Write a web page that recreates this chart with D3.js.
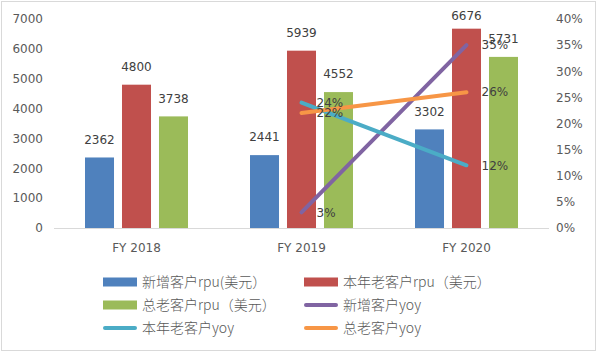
<!DOCTYPE html>
<html lang="zh">
<head>
    <meta charset="UTF-8">
    <title>客户rpu</title>
    <script src="https://d3js.org/d3.v7.min.js"></script>
    <style>
        body { margin: 0; background: #fff; }
        .tick-label { font-family: "DejaVu Sans", sans-serif; font-size: 12px; fill: #595959; }
        .data-label { font-family: "DejaVu Sans", sans-serif; font-size: 12px; fill: #404040; }
        .legend-label { font-family: "Noto Sans CJK SC", sans-serif; font-size: 14px; font-weight: 300; fill: #595959; }
    </style>
</head>
<body>
<svg id="chart" width="597" height="353"></svg>
<script>
    const categories = ["FY 2018", "FY 2019", "FY 2020"];
    const barNames = ["新增客户rpu(美元）", "本年老客户rpu（美元）", "总老客户rpu（美元）"];
    const newRpu = [2362, 2441, 3302];
    const curOldRpu = [4800, 5939, 6676];
    const allOldRpu = [3738, 4552, 5731];
    const lineNames = ["新增客户yoy", "本年老客户yoy", "总老客户yoy"];
    const newYoy = [null, 0.03, 0.35];
    const curOldYoy = [null, 0.24, 0.12];
    const allOldYoy = [null, 0.22, 0.26];
    const leftTicks = [0, 1000, 2000, 3000, 4000, 5000, 6000, 7000];
    const rightTicks = [0, 0.05, 0.1, 0.15, 0.2, 0.25, 0.3, 0.35, 0.4];

    const barColors = ["#4F81BD", "#C0504D", "#9BBB59"];
    const lineColors = ["#8064A2", "#4BACC6", "#F79646"];
    const barSeries = [newRpu, curOldRpu, allOldRpu];
    const lineSeries = [newYoy, curOldYoy, allOldYoy];

    const svg = d3.select("#chart");

    svg.append("rect")
        .attr("x", 1.5).attr("y", 1.5)
        .attr("width", 594).attr("height", 349)
        .attr("fill", "#fff")
        .attr("stroke", "#d9d9d9");

    const x0 = d3.scaleBand().domain(categories).range([54, 549]);
    const x1 = d3.scaleBand().domain(d3.range(3)).range([0, x0.bandwidth()])
        .paddingInner(0.216).paddingOuter(0.838);
    const yL = d3.scaleLinear().domain([0, 7000]).range([228, 19]);
    const yR = d3.scaleLinear().domain([0, 0.4]).range([228, 19]);

    // axes
    const leftAxis = svg.append("g")
        .attr("transform", "translate(43,0)")
        .call(d3.axisLeft(yL).tickValues(leftTicks).tickFormat(d3.format("d")).tickSize(0).tickPadding(0));
    const rightAxis = svg.append("g")
        .attr("transform", "translate(556,0)")
        .call(d3.axisRight(yR).tickValues(rightTicks).tickFormat(d3.format(".0%")).tickSize(0).tickPadding(0));
    const bottomAxis = svg.append("g")
        .attr("transform", "translate(0,228)")
        .call(d3.axisBottom(x0).tickSize(0).tickPadding(15));
    [leftAxis, rightAxis, bottomAxis].forEach(a => {
        a.select(".domain").remove();
        a.selectAll("text").attr("class", "tick-label").attr("fill", null).attr("font-family", null).attr("font-size", null);
    });

    svg.append("line")
        .attr("x1", x0.range()[0]).attr("x2", x0.range()[1])
        .attr("y1", yL(0) + 0.5).attr("y2", yL(0) + 0.5)
        .attr("stroke", "#d9d9d9");

    // bars
    barSeries.forEach((vals, s) => {
        const g = svg.append("g");
        g.selectAll("rect")
            .data(vals)
            .enter().append("rect")
            .attr("x", (d, i) => x0(categories[i]) + x1(s))
            .attr("y", d => yL(d))
            .attr("width", x1.bandwidth())
            .attr("height", d => yL(0) - yL(d))
            .attr("fill", barColors[s]);
        g.selectAll("text")
            .data(vals)
            .enter().append("text")
            .attr("class", "data-label")
            .attr("x", (d, i) => x0(categories[i]) + x1(s) + x1.bandwidth() / 2)
            .attr("y", d => Math.max(yL(d) - 18, 16))
            .attr("dy", "0.35em")
            .attr("text-anchor", "middle")
            .text(d => d);
    });

    // lines
    const cx = i => x0(categories[i]) + x0.bandwidth() / 2;
    const line = d3.line()
        .defined(d => d != null)
        .x((d, i) => cx(i))
        .y(d => yR(d));
    lineSeries.forEach((vals, s) => {
        svg.append("path")
            .attr("d", line(vals))
            .attr("fill", "none")
            .attr("stroke", lineColors[s])
            .attr("stroke-width", 4)
            .attr("stroke-linecap", "round");
    });
    lineSeries.forEach(vals => {
        svg.append("g").selectAll("text")
            .data(vals.map((v, i) => ({ v, i })).filter(d => d.v != null))
            .enter().append("text")
            .attr("class", "data-label")
            .attr("x", d => cx(d.i) + 15)
            .attr("y", d => yR(d.v))
            .attr("dy", "0.35em")
            .text(d => d3.format(".0%")(d.v));
    });

    // legend
    const legendItems = [
        { name: barNames[0], color: barColors[0], type: "bar" },
        { name: barNames[1], color: barColors[1], type: "bar" },
        { name: barNames[2], color: barColors[2], type: "bar" },
        { name: lineNames[0], color: lineColors[0], type: "line" },
        { name: lineNames[1], color: lineColors[1], type: "line" },
        { name: lineNames[2], color: lineColors[2], type: "line" }
    ];
    const legend = svg.append("g");
    legendItems.forEach((d, i) => {
        const lx = i % 2 === 0 ? 103 : 304;
        const ly = 282 + Math.floor(i / 2) * 23;
        if (d.type === "bar") {
            legend.append("rect")
                .attr("x", lx).attr("y", ly - 4.5)
                .attr("width", 34).attr("height", 9)
                .attr("fill", d.color);
        } else {
            legend.append("line")
                .attr("x1", lx + 2).attr("x2", lx + 32)
                .attr("y1", ly).attr("y2", ly)
                .attr("stroke", d.color)
                .attr("stroke-width", 4)
                .attr("stroke-linecap", "round");
        }
        legend.append("text")
            .attr("class", "legend-label")
            .attr("x", lx + 39)
            .attr("y", ly)
            .attr("dy", "0.35em")
            .text(d.name);
    });
</script>
</body>
</html>
